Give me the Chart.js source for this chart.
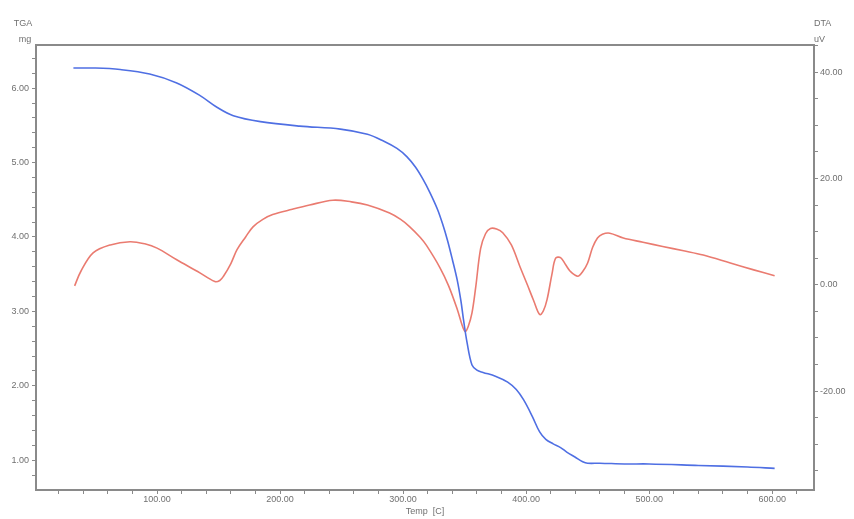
<!DOCTYPE html>
<html>
<head>
<meta charset="utf-8">
<script src="https://cdn.jsdelivr.net/npm/chart.js@4/dist/chart.umd.min.js"></script>
<style>
  html, body { margin: 0; padding: 0; background: #fff; }
  #chart { display: block; }
</style>
</head>
<body>
<canvas id="chart" width="854" height="519"></canvas>
<script>
// TGA curve (mass, mg)
const tgaTemp = [32, 50, 70, 94, 116, 135, 149, 162, 184, 216, 249, 271, 284, 295, 303, 310, 316, 322, 328, 332, 336, 340, 344, 347, 349, 352, 356, 360, 365, 375, 385, 392, 398, 405, 411, 416, 422, 428, 433, 440, 446, 450, 460, 480, 500, 540, 580, 602];
const tgaMass = [6.27, 6.27, 6.25, 6.19, 6.07, 5.90, 5.74, 5.63, 5.55, 5.49, 5.45, 5.38, 5.29, 5.19, 5.08, 4.94, 4.78, 4.59, 4.37, 4.18, 3.96, 3.70, 3.42, 3.14, 2.90, 2.58, 2.28, 2.21, 2.18, 2.13, 2.05, 1.95, 1.81, 1.59, 1.38, 1.28, 1.22, 1.17, 1.11, 1.04, 0.98, 0.96, 0.96, 0.95, 0.95, 0.93, 0.91, 0.89];

// DTA curve (uV)
const dtaTemp = [33, 38, 48, 62, 78, 90, 100, 116, 133, 147, 151, 154, 160, 165, 172, 178, 186, 194, 210, 224, 243, 258, 271, 289, 298, 305, 314, 319, 330, 337, 344, 348, 350.5, 353, 356, 359, 363, 367, 371, 376, 381, 388, 395, 401, 406, 411, 414, 417, 421, 424, 428, 432, 436, 442, 446, 450, 454, 458, 462, 468, 479, 495, 511, 528, 544, 566, 585, 602];
const dtaSignal = [-0.2, 2.5, 6.0, 7.5, 8.1, 7.7, 6.9, 4.7, 2.5, 0.6, 0.8, 1.6, 4.0, 6.6, 9.0, 10.9, 12.3, 13.2, 14.2, 15.0, 15.9, 15.6, 15.0, 13.5, 12.3, 11.0, 8.9, 7.4, 3.2, -0.2, -4.6, -7.6, -8.8, -7.8, -5.3, -0.5, 6.8, 9.6, 10.6, 10.5, 9.8, 7.5, 3.4, 0.0, -2.9, -5.6, -4.9, -2.8, 2.0, 5.0, 5.1, 3.8, 2.5, 1.6, 2.5, 4.1, 7.0, 8.8, 9.5, 9.7, 8.8, 8.0, 7.2, 6.4, 5.6, 4.1, 2.8, 1.7];

// labelled ticks
const tempLabels = [100, 200, 300, 400, 500, 600];
const tgaLabels = [1, 2, 3, 4, 5, 6];
const dtaLabels = [-20, 0, 20, 40];

const axisColor = '#8a8a8a';
const textColor = '#707070';
const font = { family: 'Liberation Sans, Arial, sans-serif', size: 9 };

function stepTicks(from, to, step) {
  const out = [];
  for (let v = from; v <= to + 1e-9; v += step) out.push({ value: Math.round(v * 100) / 100 });
  return out;
}

function labelIf(list) {
  return (value) => list.some(v => Math.abs(v - value) < 1e-6) ? Number(value).toFixed(2) : '';
}

// axis names above the plot + top frame line
const framePlugin = {
  id: 'frame',
  afterDraw(chart) {
    const { ctx, chartArea } = chart;
    ctx.save();
    ctx.strokeStyle = axisColor;
    ctx.lineWidth = 2;
    ctx.beginPath();
    ctx.moveTo(chartArea.left, chartArea.top);
    ctx.lineTo(chartArea.right, chartArea.top);
    ctx.stroke();

    ctx.fillStyle = textColor;
    ctx.font = '9px Liberation Sans, Arial, sans-serif';
    ctx.textBaseline = 'middle';
    ctx.textAlign = 'center';
    ctx.fillText('TGA', 23, 24);
    ctx.fillText('mg', 25, 40);
    ctx.textAlign = 'left';
    ctx.fillText('DTA', 814, 24);
    ctx.fillText('uV', 814, 40);
    ctx.restore();
  }
};

new Chart(document.getElementById('chart'), {
  type: 'line',
  data: {
    datasets: [
      {
        label: 'TGA',
        data: tgaTemp.map((t, i) => ({ x: t, y: tgaMass[i] })),
        yAxisID: 'yTga',
        borderColor: '#4f6fe3',
        borderWidth: 1.6,
        pointRadius: 0,
        tension: 0.35
      },
      {
        label: 'DTA',
        data: dtaTemp.map((t, i) => ({ x: t, y: dtaSignal[i] })),
        yAxisID: 'yDta',
        borderColor: '#ea7b70',
        borderWidth: 1.6,
        pointRadius: 0,
        tension: 0.35
      }
    ]
  },
  options: {
    responsive: false,
    animation: false,
    layout: { padding: { top: 45, left: 0, right: 0, bottom: 0 } },
    plugins: {
      legend: { display: false },
      tooltip: { enabled: false }
    },
    scales: {
      x: {
        type: 'linear',
        min: 1.6,
        max: 634,
        afterBuildTicks: (axis) => { axis.ticks = stepTicks(20, 620, 20); },
        afterFit: (axis) => { axis.height = 29; },
        ticks: {
          autoSkip: false,
          maxRotation: 0,
          padding: 0,
          color: textColor,
          font: font,
          callback: labelIf(tempLabels)
        },
        grid: { drawOnChartArea: false, tickLength: 4, tickColor: axisColor },
        border: { color: axisColor, width: 2 },
        title: {
          display: true,
          text: 'Temp  [C]',
          color: textColor,
          font: font,
          padding: { top: 1, bottom: 2 }
        }
      },
      yTga: {
        position: 'left',
        min: 0.6,
        max: 6.58,
        afterBuildTicks: (axis) => { axis.ticks = stepTicks(0.8, 6.4, 0.2); },
        afterFit: (axis) => { axis.width = 36; },
        ticks: {
          autoSkip: false,
          padding: 3,
          color: textColor,
          font: font,
          callback: labelIf(tgaLabels)
        },
        grid: { drawOnChartArea: false, tickLength: 4, tickColor: axisColor },
        border: { color: axisColor, width: 2 }
      },
      yDta: {
        position: 'right',
        min: -38.6,
        max: 45.1,
        afterBuildTicks: (axis) => { axis.ticks = stepTicks(-35, 45, 5); },
        afterFit: (axis) => { axis.width = 40; },
        ticks: {
          autoSkip: false,
          padding: 2,
          color: textColor,
          font: font,
          callback: labelIf(dtaLabels)
        },
        grid: { drawOnChartArea: false, tickLength: 4, tickColor: axisColor },
        border: { color: axisColor, width: 2 }
      }
    }
  },
  plugins: [framePlugin]
});
</script>
</body>
</html>
